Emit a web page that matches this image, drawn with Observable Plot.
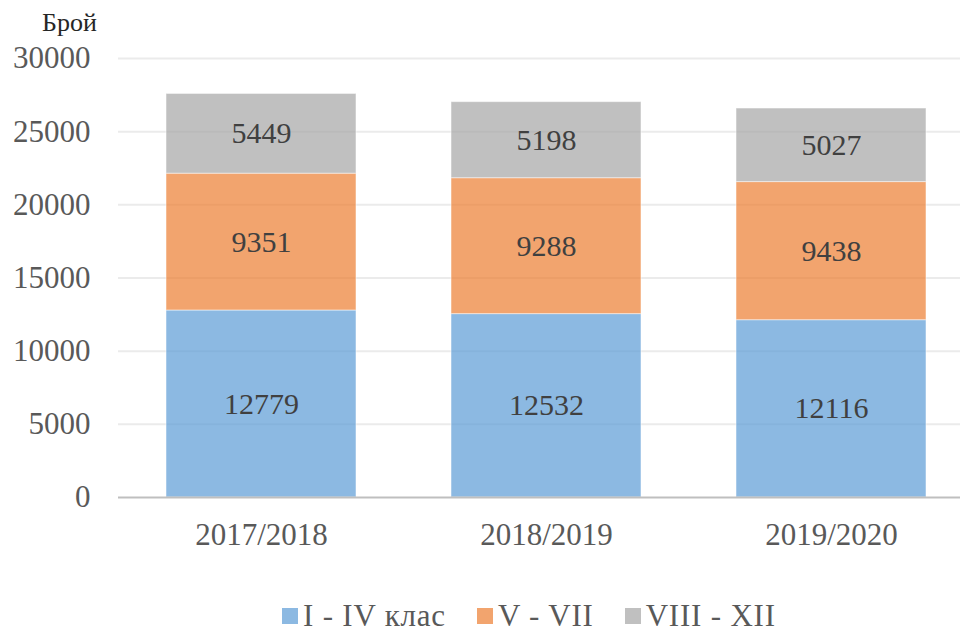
<!DOCTYPE html>
<html>
<head>
<meta charset="utf-8">
<script src="https://cdn.jsdelivr.net/npm/d3@7"></script>
<script src="https://cdn.jsdelivr.net/npm/@observablehq/plot@0.6"></script>
<style>
  body { margin: 0; background: white; }
  #wrap { width: 960px; height: 633px; overflow: hidden; position: relative; }
  #title { height: 40px; box-sizing: border-box; padding-top: 10px; padding-left: 42px; font-size: 26px; line-height: 1; color: #262626; }
  #legend { display: flex; align-items: center; margin-left: 282px; font-size: 31px; letter-spacing: 0.8px; color: #595959; }
  .item { display: flex; align-items: center; margin-right: 31px; }
  .sw { width: 16px; height: 16px; margin-right: 5px; }
</style>
</head>
<body>
<div id="wrap">
  <div id="title">Брой</div>
  <div id="chart"></div>
  <div id="legend"></div>
</div>
<script>
const years = ["2017/2018", "2018/2019", "2019/2020"];
const series = ["I - IV клас", "V - VII", "VIII - XII"];
const grade1to4 = [12779, 12532, 12116];
const grade5to7 = [9351, 9288, 9438];
const grade8to12 = [5449, 5198, 5027];
const yTicks = [0, 5000, 10000, 15000, 20000, 25000, 30000];
const colors = ["#5B9BD5", "#ED7D31", "#A5A5A5"];
const FONT = "Liberation Serif";

const seriesValues = [grade1to4, grade5to7, grade8to12];
const data = [];
series.forEach((s, si) => {
  years.forEach((y, yi) => data.push({year: y, series: s, value: seriesValues[si][yi]}));
});

document.getElementById("title").style.fontFamily = `"${FONT}", serif`;
document.getElementById("legend").style.fontFamily = `"${FONT}", serif`;

const chart = Plot.plot({
  width: 960,
  height: 558,
  marginLeft: 118,
  marginRight: 0,
  marginTop: 18,
  marginBottom: 101,
  style: {fontFamily: `"${FONT}", serif`, background: "white"},
  x: {domain: years, range: [118, 973], paddingInner: 1/3, paddingOuter: 1/6, align: 0.5},
  y: {domain: [0, 30000]},
  color: {domain: series, range: colors},
  marks: [
    Plot.ruleY(yTicks.filter(d => d > 0), {y: d => d, stroke: "#ebebeb", strokeWidth: 2}),
    Plot.barY(data, Plot.stackY({x: "year", y: "value", fill: "series", z: "series", fillOpacity: 0.7, stroke: "white", strokeOpacity: 0.5, strokeWidth: 1})),
    Plot.ruleY([0], {stroke: "#bfbfbf", strokeWidth: 2}),
    Plot.text(data, Plot.stackY({x: "year", y: "value", z: "series", text: d => String(d.value), fontSize: 30, fontFamily: FONT, fill: "#404040"})),
    Plot.axisY({ticks: yTicks, tickSize: 0, tickPadding: 28, fontSize: 31, fontFamily: FONT, fill: "#595959", tickFormat: d => String(d), label: null}),
    Plot.axisX({tickSize: 0, tickPadding: 25, fontSize: 31, fontFamily: FONT, fill: "#595959", label: null})
  ]
});
document.getElementById("chart").appendChild(chart);

const legend = document.getElementById("legend");
series.forEach((s, i) => {
  const item = document.createElement("div");
  item.className = "item";
  const sw = document.createElement("div");
  sw.className = "sw";
  sw.style.background = colors[i];
  sw.style.opacity = 0.7;
  const t = document.createElement("span");
  t.textContent = s;
  item.appendChild(sw);
  item.appendChild(t);
  legend.appendChild(item);
});
</script>
</body>
</html>
